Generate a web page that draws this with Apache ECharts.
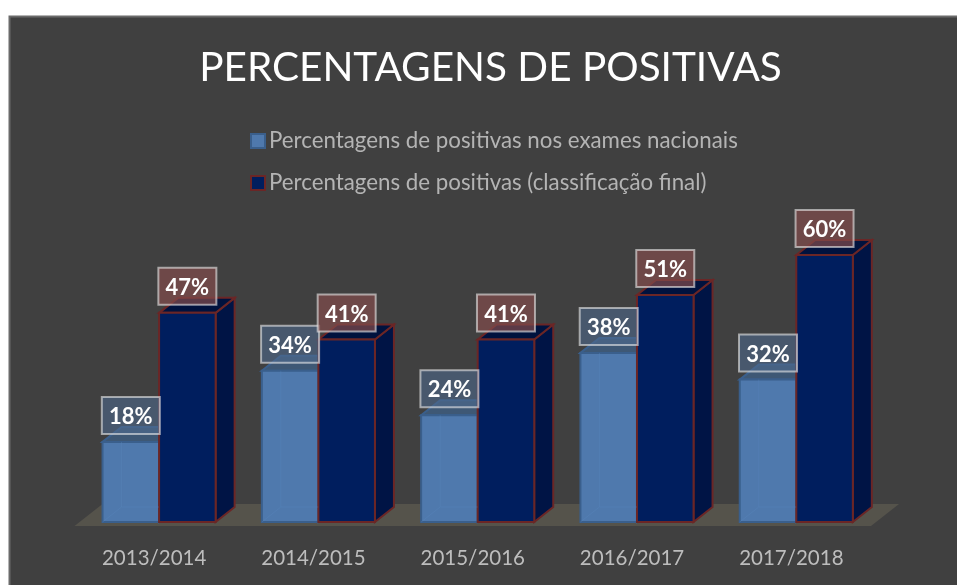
<!DOCTYPE html>
<html>
<head>
<meta charset="utf-8">
<style>
  html, body { margin: 0; padding: 0; background: #fff; }
  #main { width: 957px; height: 585px; }
</style>
</head>
<body>
<div id="main"></div>
<script src="https://cdn.jsdelivr.net/npm/echarts@6/dist/echarts.min.js"></script>
<script>
const anos = ['2013/2014', '2014/2015', '2015/2016', '2016/2017', '2017/2018']
const exames = [18, 34, 24, 38, 32]
const classificacao = [47, 41, 41, 51, 60]
const nomeExames = 'Percentagens de positivas nos exames nacionais'
const nomeFinal = 'Percentagens de positivas (classificação final)'
const fonte = 'Lato, "Open Sans", sans-serif'

// profundidade das barras 3D
const dx = 19
const dy = 15

// desenha uma barra 3D (frente, topo, lado) com a etiqueta por cima
function barra3d(cores, deslocamento) {
  return function (params, api) {
    const cat = api.value(0)
    const val = api.value(1)
    const base = api.coord([cat, 0])
    const topo = api.coord([cat, val])
    const banda = api.size([1, 0])[0]
    const w = banda * 0.355
    const x = base[0] + banda * deslocamento
    const y = topo[1]
    const y0 = base[1]
    const linha = { stroke: cores.borda, lineWidth: 2 }
    const children = [
      {
        type: 'polygon',
        z2: 1,
        shape: { points: [[x + w, y], [x + w + dx, y - dy], [x + w + dx, y0 - dy], [x + w, y0]] },
        style: { fill: cores.lado, ...linha },
      },
      {
        type: 'polygon',
        z2: 1,
        shape: { points: [[x, y], [x + dx, y - dy], [x + w + dx, y - dy], [x + w, y]] },
        style: { fill: cores.topo, ...linha },
      },
      {
        type: 'rect',
        z2: 2,
        shape: { x: x, y: y, width: w, height: y0 - y },
        style: { fill: cores.frente, ...linha },
      },
      // arestas de trás, vistas através da barra
      {
        type: 'polyline',
        z2: 3,
        shape: { points: [[x + dx, y], [x + dx, y0 - dy], [x + w, y0 - dy]] },
        style: { fill: null, stroke: cores.interior, lineWidth: 1 },
      },
      {
        type: 'line',
        z2: 3,
        shape: { x1: x, y1: y0, x2: x + dx, y2: y0 - dy },
        style: { stroke: cores.interior, lineWidth: 1 },
      },
      {
        type: 'rect',
        z2: 10,
        shape: { x: x + w / 2 - 29, y: y - 45, width: 58, height: 37 },
        style: { fill: cores.etiqueta, stroke: 'rgba(235,235,235,0.6)', lineWidth: 2 },
      },
      {
        type: 'text',
        z2: 11,
        style: {
          x: x + w / 2,
          y: y - 25,
          text: val + '%',
          fill: '#fff',
          font: 'bold 22px ' + fonte,
          align: 'center',
          verticalAlign: 'middle',
        },
      },
    ]
    return { type: 'group', children: children }
  }
}

const coresExames = {
  frente: '#4f79ad',
  topo: '#3e5875',
  lado: '#36587f',
  borda: '#3a5f8c',
  interior: 'rgba(90,135,190,0.35)',
  etiqueta: 'rgba(79,105,140,0.6)',
}
const coresFinal = {
  frente: '#001e5e',
  topo: '#00123e',
  lado: '#001445',
  borda: '#6b2626',
  interior: 'rgba(0,0,0,0)',
  etiqueta: 'rgba(130,75,75,0.7)',
}

var myChart = echarts.init(document.getElementById('main'))

var option = {
  backgroundColor: '#fff',
  animation: false,
  graphic: [
    {
      type: 'rect',
      z: -10,
      silent: true,
      shape: { x: 9.5, y: 16.5, width: 960, height: 580 },
      style: { fill: '#404040', stroke: '#6a6a6a', lineWidth: 2 },
    },
  ],
  title: {
    text: 'PERCENTAGENS DE POSITIVAS',
    left: 485.5,
    top: 42,
    textAlign: 'center',
    textStyle: { color: '#fff', fontFamily: fonte, fontWeight: 'normal', fontSize: 40.5 },
  },
  legend: {
    orient: 'vertical',
    left: 245,
    top: 125,
    itemWidth: 14,
    itemHeight: 14,
    itemGap: 20,
    icon: 'rect',
    data: [
      { name: nomeExames, itemStyle: { color: '#4f79ad', borderColor: '#3a5f8c', borderWidth: 2 } },
      { name: nomeFinal, itemStyle: { color: '#001e5e', borderColor: '#6b2626', borderWidth: 2 } },
    ],
    textStyle: { color: '#b4b4b4', fontFamily: fonte, fontSize: 22.3, padding: [0, 0, 0, -1] },
  },
  grid: { left: 74.5, right: 86, top: 210.5, bottom: 63 },
  xAxis: {
    type: 'category',
    data: anos,
    axisLine: { show: false },
    axisTick: { show: false },
    axisLabel: { color: '#bdbdbd', fontFamily: fonte, fontSize: 20.5, margin: 26 },
  },
  yAxis: { type: 'value', min: 0, max: 70, show: false },
  series: [
    {
      // chão do gráfico
      type: 'custom',
      silent: true,
      data: [[0]],
      renderItem: function (params, api) {
        const c = params.coordSys
        const y0 = c.y + c.height
        return {
          type: 'polygon',
          z2: 0,
          shape: {
            points: [
              [c.x, y0 + 4],
              [c.x + 28, y0 - 18],
              [c.x + c.width + 28, y0 - 18],
              [c.x + c.width, y0 + 4],
            ],
          },
          style: { fill: '#55534b' },
        }
      },
    },
    {
      name: nomeExames,
      type: 'custom',
      encode: { x: 0, y: 1 },
      data: exames.map((v, i) => [i, v]),
      renderItem: barra3d(coresExames, -0.324),
    },
    {
      name: nomeFinal,
      type: 'custom',
      encode: { x: 0, y: 1 },
      data: classificacao.map((v, i) => [i, v]),
      renderItem: barra3d(coresFinal, 0.031),
    },
  ],
}

myChart.setOption(option)
window.onresize = function () {
  myChart.resize()
}
</script>
</body>
</html>
